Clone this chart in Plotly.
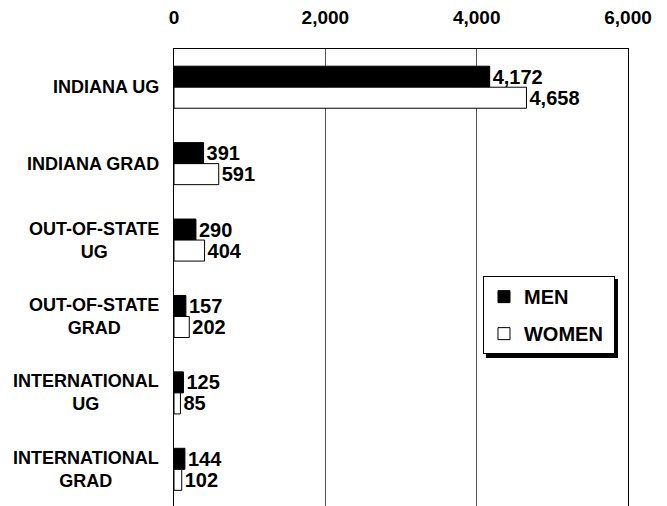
import plotly.graph_objects as go

categories = ["INDIANA UG", "INDIANA GRAD", "OUT-OF-STATE<br>UG", "OUT-OF-STATE<br>GRAD",
              "INTERNATIONAL<br>UG", "INTERNATIONAL<br>GRAD"]
men = [4172, 391, 290, 157, 125, 144]
women = [4658, 591, 404, 202, 85, 102]
series_names = ["MEN", "WOMEN\u00a0"]
x_ticks = [0, 2000, 4000, 6000]
x_tick_labels = ["0", "2,000", "4,000", "6,000"]

FONT = "Arial, Liberation Sans, sans-serif"

fig = go.Figure()
fig.add_trace(go.Bar(
    y=categories, x=men, orientation="h", name=series_names[0],
    marker=dict(color="black", line=dict(color="black", width=1)),
    text=[f"{v:,}" for v in men], textposition="outside", constraintext="none",
    textfont=dict(family=FONT, size=20, color="black", weight="bold"),
    cliponaxis=False, legendgroup="m",
))
fig.add_trace(go.Bar(
    y=categories, x=women, orientation="h", name=series_names[1],
    marker=dict(color="white", line=dict(color="black", width=1)),
    text=[f"{v:,}" for v in women], textposition="outside", constraintext="none",
    textfont=dict(family=FONT, size=20, color="black", weight="bold"),
    cliponaxis=False, legendgroup="w",
))

for c in categories:
    fig.add_annotation(x=0, xref="paper", y=c, yref="y", text=c, showarrow=False,
                       xanchor="right", align="center", xshift=-13,
                       font=dict(family=FONT, size=18, color="black", weight="bold"))

# legend shadow
fig.add_shape(type="rect", xref="paper", yref="paper", x0=0.687, x1=0.978, y0=0.324, y1=0.4967,
              fillcolor="black", line=dict(width=0), layer="above")

fig.update_layout(
    width=667, height=506,
    margin=dict(l=174, r=39, t=49, b=0),
    paper_bgcolor="white", plot_bgcolor="white",
    barmode="group", bargap=0.45, bargroupgap=0,
    font=dict(family=FONT, color="black"),
    showlegend=True,
    legend=dict(x=0.6806, y=0.503, xanchor="left", yanchor="top",
                bgcolor="white", bordercolor="black", borderwidth=1,
                font=dict(family=FONT, size=20, color="black", weight="bold"),
                traceorder="grouped", tracegroupgap=8),
    xaxis=dict(side="top", range=[0, 6000], tickvals=x_ticks, ticktext=x_tick_labels,
               showgrid=True, gridcolor="#555", gridwidth=1, zeroline=False,
               showline=True, linecolor="black", linewidth=1, ticks="",
               ticklabelstandoff=16, automargin=False,
               tickfont=dict(family=FONT, size=19, color="black", weight="bold")),
    yaxis=dict(type="category", categoryorder="array", categoryarray=categories,
               range=[5.48, -0.5], showticklabels=False, showgrid=False, zeroline=False,
               showline=True, mirror=True, linecolor="black", linewidth=1, ticks="",
               automargin=False),
)

fig.write_html("out.html", config={"displayModeBar": False},
               post_script="document.body.style.margin='0';")
